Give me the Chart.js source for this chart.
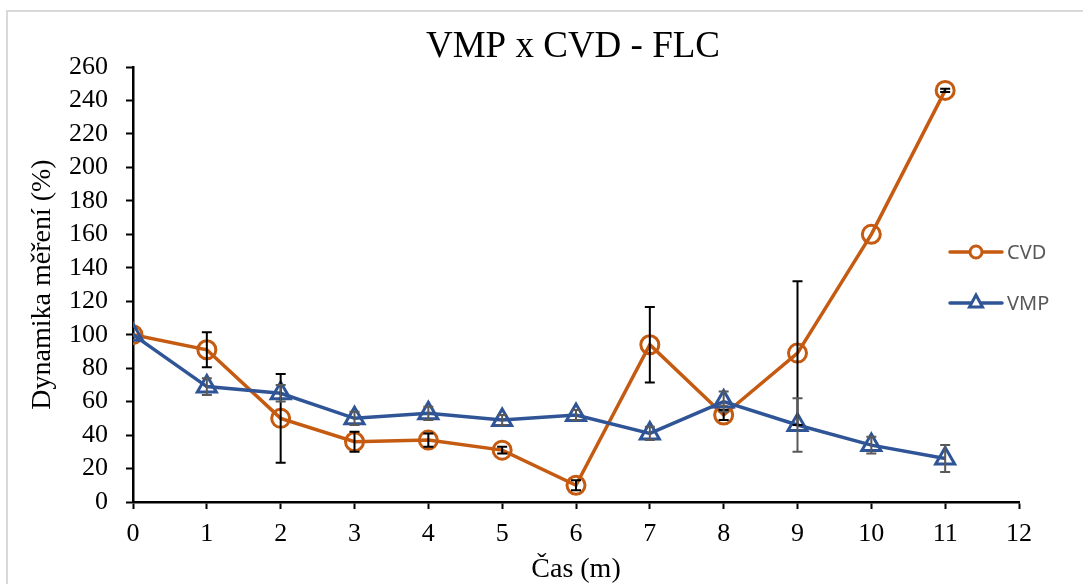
<!DOCTYPE html>
<html>
<head>
<meta charset="utf-8">
<script src="https://cdn.jsdelivr.net/npm/chart.js@4"></script>
<style>
  html, body { margin: 0; padding: 0; background: #fff; }
  #wrap { width: 1083px; height: 584px; position: relative; }
</style>
</head>
<body>
<div id="wrap"><canvas id="flc" width="1083" height="584"></canvas></div>
<script>
// time points (months) and measured dynamics in %
var xValues = [0, 1, 2, 3, 4, 5, 6, 7, 8, 9, 10, 11];
var cvdValues = [100, 91, 50, 36, 37, 31, 10, 94, 52, 89, 160, 246];
var cvdErr = [0, 10.5, 26.5, 6, 4, 2, 3, 22.5, 3, 43, 0, 1];
var vmpValues = [100, 69, 65, 50, 53, 49, 52, 41, 60, 46, 34, 26];
var vmpErr = [0, 5, 5, 4, 4, 3, 3, 4, 6, 16, 5, 8];

var cvdColor = "#C55A11";
var vmpColor = "#2F5597";
var serif = "'Liberation Serif', 'Times New Roman', serif";

function toPoints(vals) {
  return xValues.map(function(x, i) { return {x: x, y: vals[i]}; });
}

// Excel style error bars, drawn with the chart's own scales
var errorBars = {
  id: "errorBars",
  afterDatasetsDraw: function(chart) {
    var ctx = chart.ctx;
    var xs = chart.scales.x, ys = chart.scales.y;
    chart.data.datasets.forEach(function(ds) {
      if (!ds.err) return;
      ctx.save();
      ctx.strokeStyle = ds.errColor;
      ctx.lineWidth = 2;
      ds.data.forEach(function(p, i) {
        var e = ds.err[i];
        if (!e) return;
        var px = xs.getPixelForValue(p.x);
        var top = ys.getPixelForValue(p.y + e);
        var bot = ys.getPixelForValue(p.y - e);
        ctx.beginPath();
        ctx.moveTo(px, top); ctx.lineTo(px, bot);
        ctx.moveTo(px - 5, top); ctx.lineTo(px + 5, top);
        ctx.moveTo(px - 5, bot); ctx.lineTo(px + 5, bot);
        ctx.stroke();
      });
      ctx.restore();
    });
  }
};

// legend sits inside the plot like in the original, so draw it by hand
var sideLegend = {
  id: "sideLegend",
  afterDraw: function(chart) {
    var ctx = chart.ctx;
    var items = [
      {label: "CVD", color: cvdColor, shape: "circle", y: 252},
      {label: "VMP", color: vmpColor, shape: "triangle", y: 303}
    ];
    ctx.save();
    items.forEach(function(it) {
      ctx.strokeStyle = it.color;
      ctx.lineWidth = 3.5;
      ctx.lineCap = "round";
      ctx.beginPath();
      ctx.moveTo(950, it.y); ctx.lineTo(1002, it.y);
      ctx.stroke();
      ctx.fillStyle = "#fff";
      ctx.lineWidth = 3;
      ctx.beginPath();
      if (it.shape == "circle") {
        ctx.arc(976, it.y, 6, 0, Math.PI * 2);
      } else {
        ctx.moveTo(976, it.y - 8);
        ctx.lineTo(982.5, it.y + 4);
        ctx.lineTo(969.5, it.y + 4);
        ctx.closePath();
      }
      ctx.fill();
      ctx.stroke();
      ctx.fillStyle = "#595959";
      ctx.font = "20px 'Noto Sans'";
      ctx.textBaseline = "middle";
      ctx.fillText(it.label, 1007, it.y + 1);
    });
    ctx.restore();
  }
};

// grey frame of the chart object (only left and top are in view) + title
// centred on the whole object like Excel does
var frame = {
  id: "frame",
  beforeDraw: function(chart) {
    var ctx = chart.ctx;
    ctx.save();
    ctx.fillStyle = "#fff";
    ctx.fillRect(0, 0, chart.width, chart.height);
    ctx.strokeStyle = "#d9d9d9";
    ctx.lineWidth = 2;
    ctx.beginPath();
    ctx.moveTo(7, 584); ctx.lineTo(7, 11); ctx.lineTo(1083, 11);
    ctx.stroke();
    ctx.fillStyle = "#000";
    ctx.font = "37px " + serif;
    ctx.textAlign = "center";
    ctx.textBaseline = "middle";
    ctx.fillText("VMP x CVD - FLC", 573, 47);
    ctx.restore();
  }
};

new Chart(document.getElementById("flc"), {
  type: "line",
  data: {
    datasets: [{
      label: "CVD",
      data: toPoints(cvdValues),
      err: cvdErr,
      errColor: "#000",
      borderColor: cvdColor,
      backgroundColor: "#fff",
      borderWidth: 3.5,
      pointStyle: "circle",
      pointRadius: 9,
      pointBorderWidth: 3,
      pointBorderColor: cvdColor,
      pointBackgroundColor: "rgba(255,255,255,0)",
      order: 2
    }, {
      label: "VMP",
      data: toPoints(vmpValues),
      err: vmpErr,
      errColor: "#595959",
      borderColor: vmpColor,
      backgroundColor: "#fff",
      borderWidth: 3.5,
      pointStyle: "triangle",
      pointRadius: 11,
      pointBorderWidth: 3,
      pointBorderColor: vmpColor,
      pointBackgroundColor: "rgba(255,255,255,0)",
      order: 1
    }]
  },
  options: {
    responsive: false,
    animation: false,
    layout: {padding: {left: 10, right: 64, top: 67, bottom: 0}},
    plugins: {
      legend: {display: false},
      tooltip: {enabled: false},
      title: {display: false}
    },
    scales: {
      x: {
        type: "linear",
        min: 0, max: 12,
        afterFit: function(s) { s.height = 82; },
        ticks: {stepSize: 1, autoSkip: false, maxRotation: 0, color: "#000", font: {family: serif, size: 26}, padding: 10},
        grid: {drawOnChartArea: false, color: "#000", tickLength: 7, tickWidth: 2},
        border: {color: "#000", width: 2.5},
        title: {display: true, text: "Čas (m)", color: "#000", font: {family: serif, size: 28, lineHeight: 1.0}, padding: {top: 0, bottom: 0}}
      },
      y: {
        min: 0, max: 260,
        afterFit: function(s) { s.width = 123; },
        ticks: {stepSize: 20, autoSkip: false, color: "#000", font: {family: serif, size: 26}, padding: 18},
        grid: {drawOnChartArea: false, color: "#000", tickLength: 7, tickWidth: 2},
        border: {color: "#000", width: 2.5},
        title: {display: true, text: "Dynamika měření (%)", color: "#000", font: {family: serif, size: 28}, padding: {top: 16, bottom: 0}}
      }
    }
  },
  plugins: [frame, errorBars, sideLegend]
});
</script>
</body>
</html>
